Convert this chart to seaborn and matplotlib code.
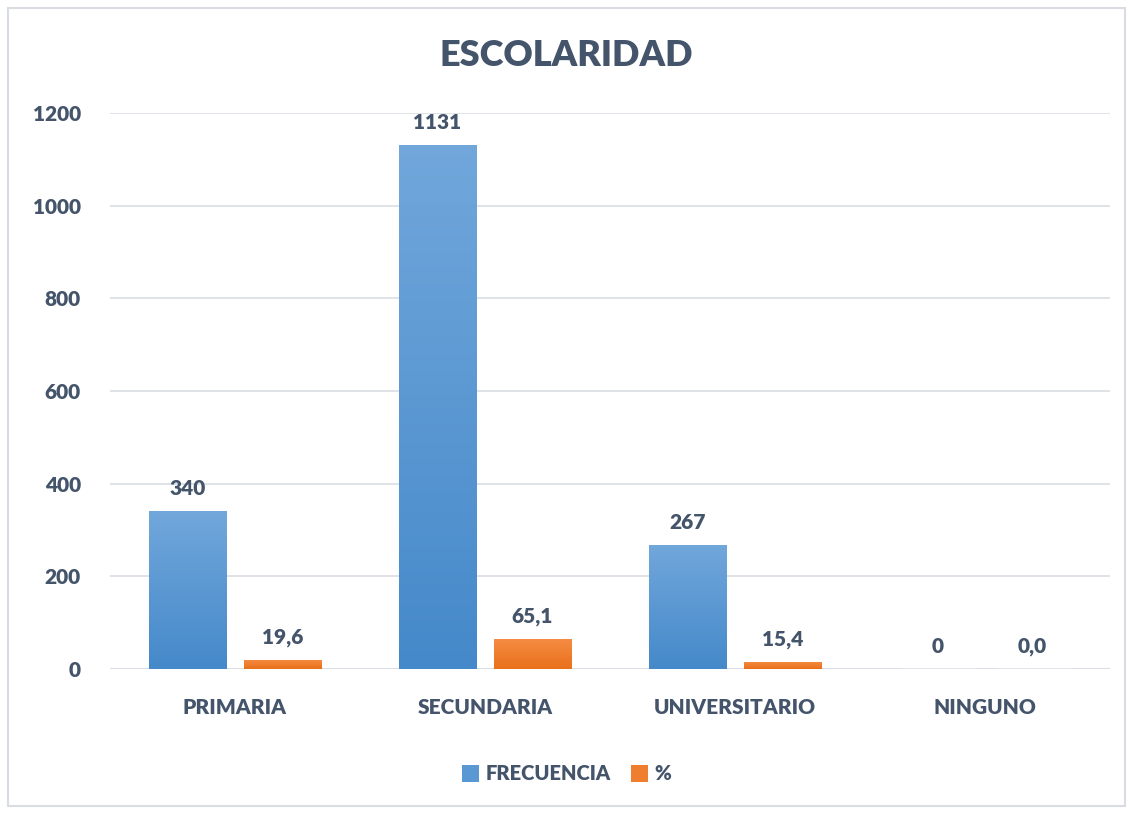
import numpy as np
import pandas as pd
import matplotlib
matplotlib.use('Agg')
import matplotlib.pyplot as plt
import seaborn as sns
from matplotlib.patches import Patch, Rectangle
from matplotlib.colors import LinearSegmentedColormap

# Data
categorias = ['PRIMARIA', 'SECUNDARIA', 'UNIVERSITARIO', 'NINGUNO']
frecuencia = [340, 1131, 267, 0]
porcentaje = [19.6, 65.1, 15.4, 0.0]
series = ['FRECUENCIA', '%']
yticks = [0, 200, 400, 600, 800, 1000, 1200]

TEXT = '#44546A'
GRID = '#D9DDE3'
WEIGHT = 'heavy'
grad_blue = ('#71A7DB', '#4589CA')    # top, bottom
grad_orange = ('#F68D44', '#E8701B')

df = pd.DataFrame({
    'categoria': categorias * 2,
    'serie': [series[0]] * len(categorias) + [series[1]] * len(categorias),
    'valor': frecuencia + porcentaje,
})

sns.set_theme(style='white')
plt.rcParams['font.family'] = ['Lato', 'DejaVu Sans']

fig = plt.figure(figsize=(11.33, 8.14), dpi=100)
ax = fig.add_axes([110 / 1133, 1 - 669 / 814, 1000 / 1133, 556 / 814])

sns.barplot(data=df, x='categoria', y='valor', hue='serie', order=categorias,
            hue_order=series, palette=[grad_blue[1], grad_orange[1]],
            width=0.76, gap=0.18, legend=False, ax=ax, errorbar=None)

# gradient fills on bars
bars = list(ax.patches)
for i, bar in enumerate(bars):
    cols = grad_blue if i < len(categorias) else grad_orange
    h = bar.get_height()
    if h <= 0:
        continue
    x0 = bar.get_x()
    w = bar.get_width()
    cmap = LinearSegmentedColormap.from_list('g', [cols[1], cols[0]])
    grad = np.linspace(0, 1, 256).reshape(-1, 1)
    im = ax.imshow(grad, cmap=cmap, origin='lower', aspect='auto',
                   extent=[x0, x0 + w, 0, h], zorder=bar.get_zorder())
    im.set_clip_path(bar)
    bar.set_facecolor('none')
    bar.set_edgecolor('none')

ax.set_xlim(-0.5, len(categorias) - 0.5)
ax.set_ylim(0, 1200)

# data labels
for i, bar in enumerate(bars):
    v = bar.get_height()
    xc = bar.get_x() + bar.get_width() / 2
    if i < len(categorias):
        label = f'{frecuencia[i]:d}'
    else:
        label = f'{porcentaje[i - len(categorias)]:.1f}'.replace('.', ',')
    ax.text(xc, v + 28, label, ha='center', va='bottom', fontsize=15,
            fontweight=WEIGHT, color=TEXT)

ax.set_yticks(yticks)
ax.yaxis.grid(True, color=GRID, linewidth=1.2)
ax.set_axisbelow(True)
for s in ax.spines.values():
    s.set_visible(False)
ax.axhline(0, color=GRID, linewidth=1.2, zorder=0)
ax.tick_params(axis='both', length=0, labelsize=15, labelcolor=TEXT)
ax.tick_params(axis='y', pad=21)
ax.tick_params(axis='x', pad=21)
for lab in ax.get_xticklabels() + ax.get_yticklabels():
    lab.set_fontweight(WEIGHT)
ax.set_xlabel('')
ax.set_ylabel('')

fig.text(0.5, 1 - 55 / 814, 'ESCOLARIDAD', ha='center', va='center',
         fontsize=26, fontweight=WEIGHT, color=TEXT)

handles = [Patch(facecolor='#5A98D3', edgecolor='none', label=series[0]),
           Patch(facecolor='#EF7E2F', edgecolor='none', label=series[1])]
leg = fig.legend(handles=handles, loc='center', bbox_to_anchor=(0.5, 1 - 774 / 814),
                 ncol=2, frameon=False, handlelength=0.85, handleheight=0.85,
                 handletextpad=0.3, columnspacing=1.0,
                 prop={'size': 14.5, 'weight': WEIGHT})
for t in leg.get_texts():
    t.set_color(TEXT)

# outer chart border
fig.patches.append(Rectangle((8 / 1133, 8 / 814), 1117 / 1133, 798 / 814,
                             transform=fig.transFigure, fill=False,
                             edgecolor=GRID, linewidth=1.5))

fig.savefig('out.png', dpi=100)
